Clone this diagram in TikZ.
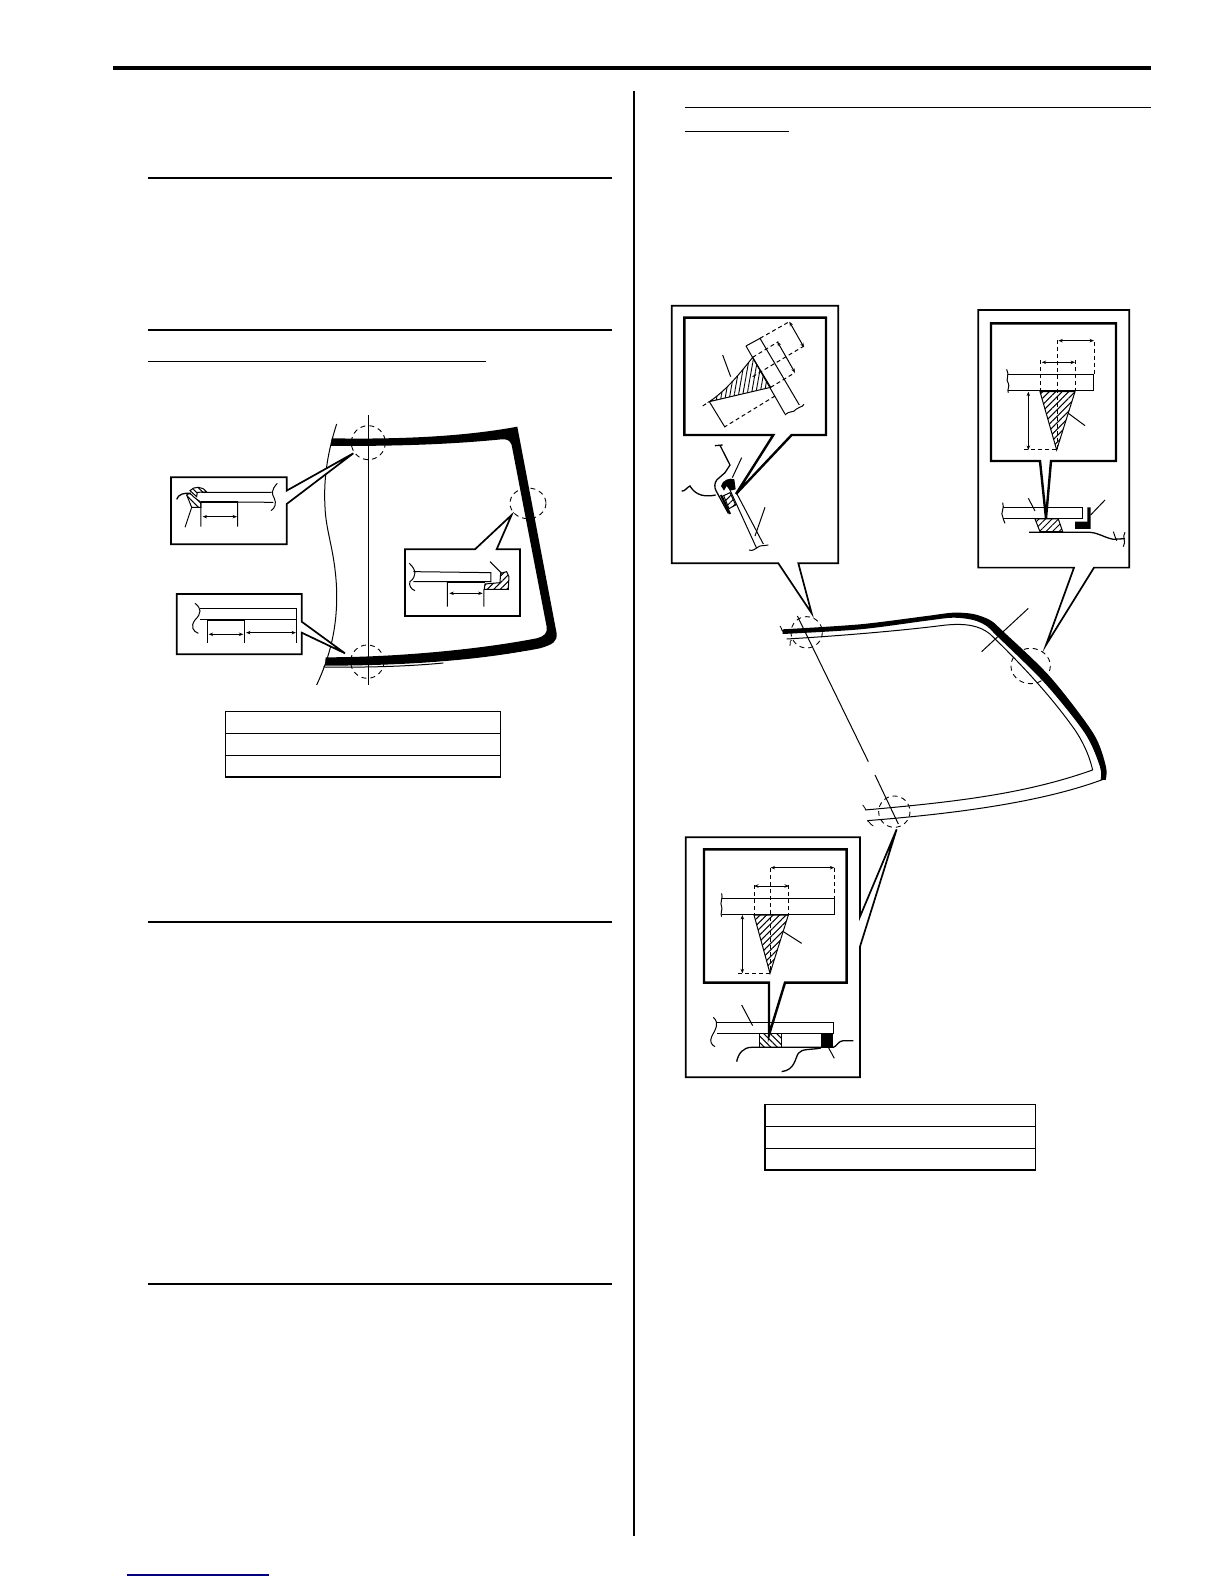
\documentclass[tikz,border=0pt]{standalone}
\usetikzlibrary{patterns.meta,arrows.meta}
\definecolor{linkblue}{RGB}{0,0,128}
\tikzset{
 rulethin/.style={line width=1.8pt},
 boxline/.style={line width=1.7pt,fill=white},
 boxthick/.style={line width=2.4pt,fill=white},
 thin1/.style={line width=1pt},
 mid1/.style={line width=1.3pt},
 dash1/.style={line width=1pt,dash pattern=on 4pt off 3pt},
 circ1/.style={line width=0.9pt,dash pattern=on 5pt off 4pt},
 dim1/.style={line width=1pt,{Stealth[length=4.5pt,width=3.5pt]}-{Stealth[length=4.5pt,width=3.5pt]}},
 hatchfill/.style={pattern={Lines[angle=45,distance=4.6pt,line width=1pt]}},
 hatchback/.style={pattern={Lines[angle=-45,distance=4.6pt,line width=1pt]}},
 hatchtall/.style={pattern={Lines[angle=80,distance=4.2pt,line width=0.9pt]}}
}
\begin{document}
\begin{tikzpicture}[x=1pt,y=-1pt]
\useasboundingbox (0,0) rectangle (1224,1584);
\fill[white] (0,0) rectangle (1224,1584);
% page rules
\draw[line width=4pt] (113,68) -- (1151,68);
\draw[line width=2pt] (634,91) -- (634,1536);
\foreach \yy in {178,330,922,1284} \draw[rulethin] (147.5,\yy) -- (612,\yy);
\draw[line width=1.2pt] (147.5,361.5) -- (486,361.5);
\draw[line width=1.2pt] (685,107.5) -- (1151,107.5);
\draw[line width=1.2pt] (685,131.5) -- (789,131.5);
\draw[line width=1.2pt,linkblue] (127,1575) -- (269,1575);
% tables
\draw[line width=1.1pt] (225.5,711.5) rectangle (500.5,777);
\draw[line width=1.1pt] (225.5,733.5) -- (500.5,733.5) (225.5,755.5) -- (500.5,755.5);
\draw[line width=1.1pt] (765,1104.5) rectangle (1035.7,1170);
\draw[line width=1.1pt] (765,1126.5) -- (1035.7,1126.5) (765,1148.5) -- (1035.7,1148.5);

% ===== left diagram
\begin{scope}[shift={(160,400)},x=0.3333pt,y=-0.3333pt]
\draw[thin1] (530,72) .. controls (505,150) and (490,230) .. (495,320) .. controls (498,400) and (525,450) .. (530,570) .. controls (533,680) and (510,770) .. (470,855);
\fill (515,115) .. controls (700,118) and (900,112) .. (1072,80) -- (1190,700) .. controls (1192,725) and (1180,733) .. (1140,745) .. controls (1000,772) and (800,797) .. (495,797) -- (497,772) .. controls (700,772) and (950,750) .. (1130,715) .. controls (1155,708) and (1162,700) .. (1160,680) -- (1055,135) .. controls (1050,120) and (1040,117) .. (1025,118) .. controls (850,135) and (700,138) .. (513,138) -- cycle;
\draw[white,line width=1.2pt] (985,775) -- (1095,756);
\draw[white,line width=0.9pt] (670,797) .. controls (740,795) and (800,791) .. (850,786);
\draw[thin1] (490,801) .. controls (620,803) and (750,799) .. (850,789);
\draw[thin1] (625,45) -- (625,855);
\draw[circ1] (625,128) circle (51);
\draw[circ1] (1104,310) ellipse (54 and 46);
\draw[circ1] (622,785) circle (50);
% callout 1
\draw[boxline] (33,232) -- (380,232) -- (380,272) -- (580,160) -- (380,312) -- (380,433) -- (33,433) -- cycle;
\end{scope}
\begin{scope}[shift={(165,470)},x=0.3333pt,y=-0.3333pt]
\draw[thin1] (110,67) -- (320,67) (108,95) -- (325,97);
\draw[thin1] (337,40) .. controls (318,60) and (320,72) .. (328,85) .. controls (335,100) and (330,115) .. (318,122);
\draw[hatchback,thin1] (75,62) .. controls (85,48) and (115,48) .. (125,66) -- (97,67) -- (95,80) -- cycle;
\draw[hatchback,thin1] (65,75) .. controls (72,68) and (80,72) .. (85,80) -- (108,97) -- (108,112) -- (80,112) -- cycle;
\draw[line width=1.9pt] (108,96) -- (218,96);
\draw[mid1] (35,88) .. controls (40,72) and (58,68) .. (78,70);
\draw[thin1] (108,95) -- (108,170) (218,95) -- (218,170) (80,112) -- (60,172);
\draw[dim1] (113,140) -- (216,140);
\end{scope}
\begin{scope}[shift={(160,400)},x=0.3333pt,y=-0.3333pt]
% callout 2
\draw[boxline] (50,582) -- (425,582) -- (425,665) -- (555,760) -- (425,698) -- (425,763) -- (50,763) -- cycle;
\draw[thin1] (120,625) -- (410,625) -- (410,658) -- (120,658);
\draw[thin1] (105,610) .. controls (125,625) and (125,640) .. (105,660) .. controls (90,680) and (100,695) .. (115,700);
\draw[line width=1.9pt] (145,661) -- (253,661);
\draw[thin1] (143,660) -- (143,730) (253,660) -- (253,730) (410,658) -- (410,730);
\draw[dim1] (146,703) -- (250,703);
\draw[dim1] (258,698) -- (408,698);
% callout 3
\draw[boxline] (735,448) -- (945,448) -- (1055,345) -- (1010,448) -- (1080,448) -- (1080,648) -- (735,648) -- cycle;
\draw[thin1] (760,515) -- (993,518) -- (993,545) -- (760,545);
\draw[thin1] (748,490) .. controls (770,510) and (770,530) .. (750,545) .. controls (745,555) and (755,570) .. (765,572);
\draw[line width=1.9pt] (862,547) -- (975,547);
\draw[hatchfill,thin1] (975,552) -- (1020,548) -- (1022,520) -- (1040,515) -- (1047,530) -- (1045,568) -- (973,568) -- cycle;
\draw[thin1] (990,485) -- (1025,520) (862,546) -- (862,620) (972,568) -- (972,620);
\draw[dim1] (868,580) -- (968,580);
\end{scope}

% ===== right windshield
\begin{scope}[shift={(760,570)},x=0.3333pt,y=-0.3333pt]
\draw[line width=1pt] (80,207) .. controls (200,200) and (400,185) .. (550,166) .. controls (620,158) and (660,168) .. (690,192) .. controls (760,260) and (860,360) .. (945,480) .. controls (975,525) and (990,565) .. (998,600) .. controls (800,670) and (600,695) .. (315,720);
\draw[line width=1pt] (1030,628) .. controls (850,695) and (600,730) .. (322,752);
\fill plot[smooth] coordinates {(68,178) (300,163) (500,138) (580,128) (640,132) (690,150) (725,180) (870,320) (1000,490) (1038,590) (1037,630)} -- plot[smooth] coordinates {(1022,630) (1020,590) (975,490) (855,340) (710,197) (680,168) (640,150) (580,143) (500,152) (300,178) (68,192)} -- cycle;
\draw[line width=0.8pt] (60,168) .. controls (68,172) and (60,178) .. (70,185) (95,210) .. controls (85,215) and (95,222) .. (90,228)
 (308,705) .. controls (318,710) and (310,715) .. (318,720) (322,752) .. controls (332,755) and (325,760) .. (340,768);
\draw[thin1] (112,138) -- (325,575) (345,615) -- (415,762);
\draw[thin1] (665,245) -- (805,115);
\draw[circ1] (140,187) circle (47);
\draw[circ1] (812,288) ellipse (59 and 53);
\draw[circ1] (403,725) circle (47);
\end{scope}

% ===== top left callout
\begin{scope}[shift={(660,295)},x=0.3333pt,y=-0.3333pt]
\draw[boxline] (35,32) -- (535,32) -- (535,805) -- (415,805) -- (455,955) -- (355,805) -- (35,805) -- cycle;
\draw[boxthick] (73,68) -- (498,68) -- (498,420) -- (395,420) -- (228,597) -- (340,420) -- (73,420) -- cycle;
\end{scope}
\begin{scope}[shift={(680,310)},x=0.3333pt,y=-0.3333pt]
\draw[hatchtall,thin1] (218,142) -- (272,232) -- (88,275) .. controls (140,240) and (180,190) .. (218,142) -- cycle;
\draw[thin1] (198,108) -- (240,85) -- (358,285) (198,108) -- (315,312);
\draw[thin1] (315,315) .. controls (330,300) and (340,310) .. (348,298) .. controls (355,288) and (365,295) .. (372,283);
\draw[dash1] (240,85) -- (328,35) (218,142) -- (295,95) (68,288) -- (88,275) (218,200) -- (372,108) (272,232) -- (345,188) (285,258) -- (135,350);
\draw[thin1] (88,275) -- (135,352) (128,135) -- (152,200);
\draw[dim1] (328,35) -- (372,112);
\draw[dim1] (292,95) -- (345,188);
\end{scope}
\begin{scope}[shift={(675,430)},x=0.3333pt,y=-0.3333pt]
% small section
\draw[mid1] (120,47) .. controls (128,50) and (135,42) .. (143,45) (135,46) -- (165,105) -- (150,128) -- (125,150) .. controls (118,160) and (118,172) .. (123,182) -- (160,250);
\fill (138,168) .. controls (142,150) and (165,142) .. (178,148) -- (182,178) -- (165,182) -- (155,168) -- (147,182) -- cycle;
\draw[line width=2.2pt] (138,195) -- (165,252);
\draw[hatchfill,thin1] (146,197) -- (165,188) -- (182,225) -- (162,236) -- cycle;
\draw[thin1] (165,180) -- (245,355) (186,192) -- (265,342);
\draw[thin1] (222,360) .. controls (235,365) and (240,355) .. (248,352) .. controls (255,345) and (268,348) .. (280,345);
\draw[thin1] (200,83) -- (172,143) (270,232) -- (240,318);
\draw[mid1] (20,183) .. controls (30,185) and (35,172) .. (45,168) .. controls (55,185) and (75,205) .. (122,195);
\end{scope}

% ===== top right callout
\begin{scope}[shift={(960,300)},x=0.3333pt,y=-0.3333pt]
\draw[boxline] (55,30) -- (508,30) -- (508,803) -- (402,803) -- (258,1035) -- (342,803) -- (55,803) -- cycle;
\draw[boxthick] (93,70) -- (468,70) -- (468,483) -- (273,483) -- (258,655) -- (240,483) -- (93,483) -- cycle;
\draw[hatchfill,thin1] (240,275) -- (345,275) -- (290,450) -- cycle;
\draw[thin1] (145,225) -- (400,225) -- (400,273) -- (145,273);
\draw[thin1] (140,208) .. controls (150,225) and (135,240) .. (145,250) .. controls (150,260) and (140,270) .. (145,278);
\draw[dash1] (240,180) -- (240,273) (345,180) -- (345,273) (292,120) -- (292,450) (402,125) -- (402,225) (192,450) -- (290,450);
\draw[dim1] (245,187) -- (345,187);
\draw[dim1] (295,122) -- (402,122);
\draw[dim1] (205,275) -- (205,450);
\draw[thin1] (325,340) -- (375,377);
\draw[hatchfill,thin1] (225,657) -- (295,657) -- (308,695) -- (240,695) -- cycle;
\draw[thin1] (130,622) -- (368,622) -- (368,655) -- (130,655);
\draw[thin1] (128,608) .. controls (135,625) and (120,640) .. (128,650) .. controls (133,655) and (128,665) .. (135,670);
\fill (345,665) -- (382,665) -- (382,622) -- (392,622) -- (392,687) -- (345,687) -- cycle;
\draw[mid1] (207,697) -- (390,697) .. controls (420,700) and (430,712) .. (460,718) -- (495,716);
\draw[thin1] (460,695) .. controls (465,705) and (465,715) .. (470,722) (495,697) .. controls (485,710) and (500,725) .. (490,740);
\draw[thin1] (205,595) -- (225,633) (392,645) -- (435,600);
\end{scope}

% ===== bottom left callout
\begin{scope}[shift={(670,820)},x=0.3333pt,y=-0.3333pt]
\draw[boxline] (47,52) -- (570,52) -- (570,290) -- (680,28) -- (570,380) -- (570,772) -- (47,772) -- cycle;
\draw[boxthick] (102,88) -- (530,88) -- (530,488) -- (345,488) -- (297,645) -- (297,488) -- (102,488) -- cycle;
\draw[hatchfill,thin1] (252,285) -- (355,285) -- (300,460) -- cycle;
\draw[thin1] (155,235) -- (493,235) -- (493,283) -- (155,283);
\draw[thin1] (155,220) .. controls (160,235) and (148,250) .. (155,260) .. controls (158,270) and (150,280) .. (155,290);
\draw[dash1] (252,195) -- (252,283) (357,195) -- (357,283) (300,145) -- (300,460) (493,145) -- (493,235) (205,460) -- (300,460);
\draw[dim1] (252,198) -- (357,198);
\draw[dim1] (302,143) -- (493,143);
\draw[dim1] (217,285) -- (217,460);
\draw[thin1] (340,335) -- (395,370);
\draw[hatchback,thin1] (268,640) rectangle (335,682);
\draw[thin1] (140,607) -- (490,607) -- (490,640) -- (140,640);
\draw[thin1] (130,592) .. controls (150,610) and (135,630) .. (125,650) .. controls (118,665) and (125,675) .. (135,680);
\fill (453,640) rectangle (490,682);
\draw[mid1] (200,725) .. controls (205,700) and (220,682) .. (245,682) -- (490,682) .. controls (500,680) and (505,662) .. (520,662) -- (550,662);
\draw[mid1] (335,755) .. controls (375,750) and (375,715) .. (385,700) .. controls (395,685) and (425,690) .. (453,684);
\draw[thin1] (215,555) -- (248,617) (475,682) -- (493,715);
\end{scope}
\end{tikzpicture}
\end{document}
